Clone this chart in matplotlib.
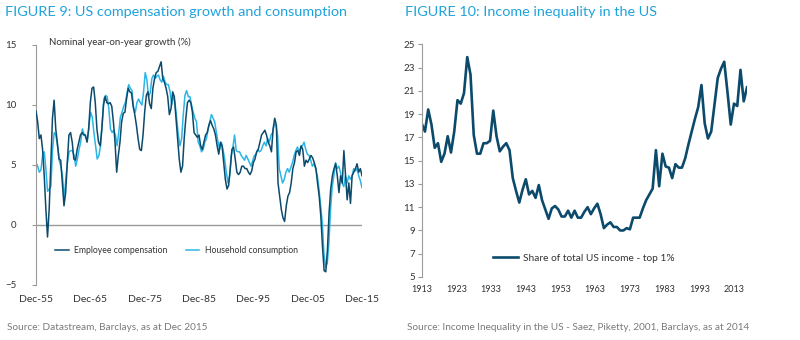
import numpy as np
import matplotlib
matplotlib.use("Agg")
import matplotlib.pyplot as plt
from matplotlib.transforms import ScaledTranslation

plt.rcParams['font.family'] = ['Lato', 'DejaVu Sans']

# --- Figure 9: nominal y/y growth (%), Dec-55 .. Dec-15 ---
employee_comp = [
    9.5, 8.6, 7.2, 7.5, 6.3, 4.1, 1.3, -1.0, 1.3, 5.2, 8.9, 10.4, 8.0, 6.8, 5.5,
    5.4, 3.5, 1.6, 2.7, 5.2, 7.5, 7.7, 6.9, 5.5, 5.4, 6.3, 6.9, 7.5, 7.7, 7.5,
    7.5, 6.9, 8.0, 10.2, 11.4, 11.5, 10.2, 8.0, 6.9, 6.6, 8.0, 10.0, 10.7, 10.2, 10.1,
    10.2, 9.9, 8.6, 6.9, 4.4, 5.8, 6.9, 8.6, 9.3, 9.4, 10.5, 11.4, 11.1, 11.0, 9.9,
    9.2, 8.3, 7.2, 6.3, 6.2, 7.5, 9.4, 10.8, 11.1, 10.1, 9.7, 11.4, 12.2, 12.7, 12.8,
    13.2, 13.6, 12.2, 11.9, 11.4, 10.7, 9.2, 9.7, 11.1, 10.7, 8.9, 7.2, 5.5, 4.4, 4.9,
    7.2, 8.9, 10.2, 10.4, 10.2, 9.4,
    7.7, 7.5, 7.3, 7.5, 6.6, 6.3, 6.9, 7.5, 7.7, 8.3, 8.7, 8.3, 8.0, 7.5, 6.6,
    5.9, 6.9, 6.6, 5.2, 3.8, 3.0, 3.3, 4.7, 6.3, 6.5, 5.5, 4.4, 4.2, 4.4, 4.9,
    4.9, 4.7, 4.7, 4.4, 4.2, 4.5, 5.2, 5.5, 6.1, 6.3, 6.9, 7.5, 7.7, 7.9, 7.5,
    6.9, 6.6, 6.1, 8.0, 8.9, 8.3,
    3.5, 2.4, 1.3, 0.6, 0.3, 1.6, 2.4, 2.7, 3.5, 4.7, 5.2, 6.1, 6.2, 5.8, 6.6,
    6.3, 4.9, 5.4, 5.2, 5.5, 5.8, 5.6, 5.2, 4.7, 3.5, 2.4, 0.7, -1.8, -3.8, -3.9,
    -2.1, 1.0, 3.0, 4.1, 4.7, 5.1, 4.1, 2.7, 4.1, 3.5, 6.2, 4.1, 2.1, 3.5, 1.8,
    4.1, 4.4, 4.7, 5.1, 4.4, 4.7, 4.1,
]
household_cons = [
    5.2, 4.9, 4.4, 4.6, 5.8, 6.1, 4.6, 2.8, 3.0, 3.2, 6.3, 7.7, 7.5, 6.6, 5.4,
    4.9, 4.1, 2.1, 3.8, 5.2, 6.1, 6.2, 6.2, 5.8, 4.9, 5.5, 6.3, 6.9, 8.0, 7.6,
    7.3, 7.0, 8.3, 9.4, 9.0, 7.7, 6.6, 5.5, 5.8, 6.6, 8.6, 10.5, 10.8, 10.7, 9.7,
    8.0, 7.7, 7.9, 7.5, 6.6, 7.7, 9.0, 9.4, 9.9, 10.2, 11.0, 11.7, 11.4, 11.2, 9.7,
    9.4, 10.2, 10.5, 10.2, 10.0, 11.1, 12.7, 12.1, 10.7, 11.0, 12.2, 12.5, 12.2, 12.4, 12.5,
    12.1, 11.9, 12.4, 11.9, 11.7, 11.7, 11.1, 10.0, 10.8, 10.2, 8.9, 7.5, 6.6, 7.2, 9.2,
    10.8, 11.2, 10.7, 10.7, 10.0, 9.4,
    8.9, 8.6, 6.9, 6.6, 6.1, 6.3, 6.9, 7.2, 8.0, 8.6, 9.2, 8.9, 8.6, 7.7, 6.9,
    6.3, 6.9, 6.3, 5.5, 4.4, 3.5, 4.1, 5.8, 6.5, 7.5, 6.2, 6.1, 6.1, 5.8, 5.6,
    5.4, 5.8, 5.5, 5.2, 4.9, 5.4, 5.8, 5.9, 6.3, 6.1, 6.2, 6.6, 6.9, 6.6, 7.2,
    6.9, 7.5, 7.7, 8.4, 8.3, 7.5,
    4.7, 4.1, 3.5, 3.8, 4.4, 4.7, 4.4, 4.8, 5.2, 5.8, 6.2, 6.5, 6.1, 6.5, 6.6,
    6.9, 6.3, 5.9, 5.8, 5.4, 4.9, 5.1, 4.7, 4.1, 3.0, 1.6, 0.2, -2.4, -3.5, -3.2,
    -1.5, 1.3, 3.2, 4.1, 5.2, 4.7, 4.9, 4.4, 3.5, 3.2, 4.1, 3.5, 4.1, 3.8, 4.1,
    4.7, 4.5, 4.7, 4.1, 3.7, 3.1,
]
date_start, date_end = 1955.92, 2015.92
dec_ticks = [1955.92, 1965.92, 1975.92, 1985.92, 1995.92, 2005.92, 2015.92]
dec_labels = ['Dec-55', 'Dec-65', 'Dec-75', 'Dec-85', 'Dec-95', 'Dec-05', 'Dec-15']

# --- Figure 10: top 1% share of US income (%) ---
top1_share = [
    18.2, 17.5, 19.4, 18.1, 16.1, 16.5, 14.9, 15.6, 17.1, 15.7, 17.5, 20.2, 19.9,
    20.8, 23.9, 22.4, 17.2, 15.6, 15.6, 16.5, 16.5, 16.7, 19.3, 17.1, 15.8, 16.2,
    16.5, 15.9, 13.5, 12.4, 11.4, 12.5, 13.4, 12.1, 12.4, 11.8, 12.9, 11.6, 10.8,
    10.0, 10.9, 11.1, 10.8, 10.2, 10.2, 10.7, 10.1, 10.7, 10.1, 10.1, 10.6,
    11.0, 10.4, 10.9, 11.3, 10.4, 9.2, 9.5, 9.7, 9.3, 9.3, 9.0, 9.0, 9.2, 9.1,
    10.1, 10.1, 10.1, 10.9, 11.6, 12.1, 12.6, 15.9, 12.8, 15.6, 14.5, 14.4, 13.5,
    14.7, 14.4, 14.4, 15.2, 16.4, 17.5, 18.6, 19.6, 21.5, 18.2, 16.9, 17.5, 19.8,
    22.1, 22.9, 23.5, 20.9, 18.1, 19.9, 19.7, 22.8, 20.1, 21.3,
]
year_labels = ['1913', '1923', '1933', '1943', '1953', '1963', '1973', '1983', '1993', '2013']

title_col = '#1fa3dc'
dark_col = '#0c4a6c'
light_col = '#2bb6e6'
axis_col = '#9a9a9a'
text_col = '#333333'
src_col = '#7a7a7a'

W, H = 800, 340
fig = plt.figure(figsize=(W / 100, H / 100), dpi=100)
fig.patch.set_facecolor('white')


def box(x0, y0, x1, y1):
    return [x0 / W, 1 - y1 / H, (x1 - x0) / W, (y1 - y0) / H]


# left panel
ax1 = fig.add_axes(box(36, 45, 362, 285))
t1 = np.linspace(date_start, date_end, len(employee_comp))
t2 = np.linspace(date_start, date_end, len(household_cons))
ax1.axhline(0, color=axis_col, lw=1.0, zorder=1)
ax1.plot(t1, employee_comp, color=dark_col, lw=1.1, label='Employee compensation', zorder=3)
ax1.plot(t2, household_cons, color=light_col, lw=1.1, label='Household consumption', zorder=2)
ax1.set_xlim(date_start, date_end)
ax1.set_ylim(-5, 15)
ax1.set_yticks([-5, 0, 5, 10, 15])
ax1.set_xticks(dec_ticks)
ax1.set_xticklabels(dec_labels)
shift = ScaledTranslation(-4 / 100, 0, fig.dpi_scale_trans)
for lab in ax1.get_xticklabels():
    lab.set_transform(lab.get_transform() + shift)
for s in ['top', 'right', 'bottom']:
    ax1.spines[s].set_visible(False)
ax1.spines['left'].set_color(axis_col)
ax1.tick_params(axis='y', length=3, color=axis_col, pad=11, labelsize=7, labelcolor=text_col)
ax1.tick_params(axis='x', length=0, pad=7, labelsize=7.5, labelcolor=text_col)
ax1.legend(loc='center left', bbox_to_anchor=(0.035, 0.143), ncol=2, frameon=False,
           fontsize=6.2, handlelength=1.6, columnspacing=2.1, handletextpad=0.6,
           labelcolor=text_col)
ax1.text(49 / W, 1 - 42 / H, 'Nominal year-on-year growth (%)', transform=fig.transFigure,
         fontsize=7, color=text_col, va='center', ha='left')

# right panel
ax2 = fig.add_axes(box(421.7, 44.3, 747, 277))
idx = np.arange(len(top1_share))
ax2.plot(idx, top1_share, color=dark_col, lw=1.9, label='Share of total US income - top 1%')
ax2.set_xlim(0, len(top1_share) - 1)
ax2.set_ylim(5, 25)
ax2.set_yticks(np.arange(5, 26, 2))
ax2.set_xticks(np.linspace(0, 96, len(year_labels)))
ax2.set_xticklabels(year_labels)
for s in ['top', 'right', 'bottom']:
    ax2.spines[s].set_visible(False)
ax2.spines['left'].set_color(axis_col)
ax2.tick_params(axis='y', length=3, color=axis_col, pad=2, labelsize=7, labelcolor=text_col)
ax2.tick_params(axis='x', length=0, pad=6, labelsize=6.5, labelcolor=text_col)
ax2.legend(loc='center left', bbox_to_anchor=(0.19, 0.08), frameon=False, fontsize=7.3,
           handlelength=2.5, handletextpad=0.5, labelcolor=text_col)

# titles and sources
fig.text(5 / W, 1 - 12 / H, 'FIGURE 9: US compensation growth and consumption',
         fontsize=10.4, color=title_col, va='center', ha='left')
fig.text(405 / W, 1 - 12 / H, 'FIGURE 10: Income inequality in the US',
         fontsize=10.4, color=title_col, va='center', ha='left')
fig.text(7 / W, 1 - 327 / H, 'Source: Datastream, Barclays, as at Dec 2015',
         fontsize=7.2, color=src_col, va='center', ha='left')
fig.text(407 / W, 1 - 327 / H,
         'Source: Income Inequality in the US - Saez, Piketty, 2001, Barclays, as at 2014',
         fontsize=7.2, color=src_col, va='center', ha='left')

fig.savefig('out.png', dpi=100)
